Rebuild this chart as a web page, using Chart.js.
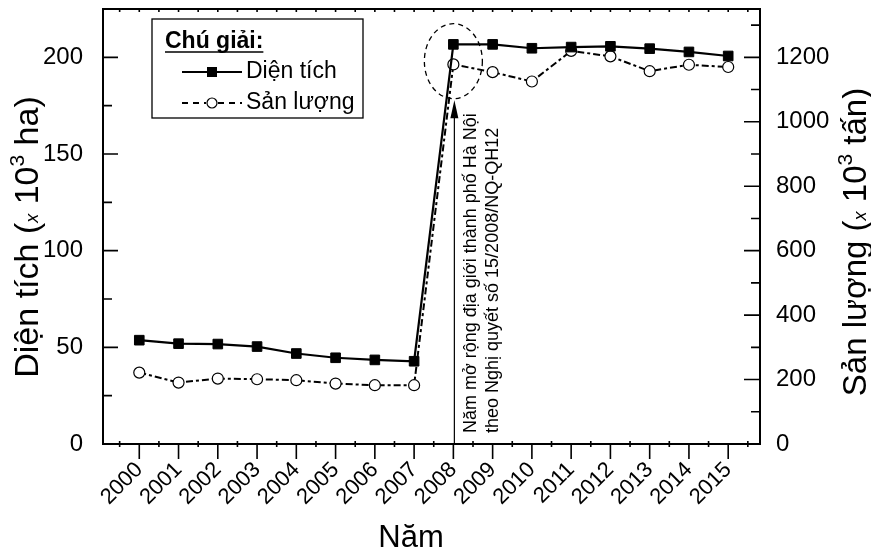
<!DOCTYPE html>
<html><head><meta charset="utf-8">
<script src="https://cdn.jsdelivr.net/npm/chart.js@4/dist/chart.umd.min.js"></script>
<style>html,body{margin:0;padding:0;background:#fff}</style>
</head><body>
<div style="width:871px;height:554px"><canvas id="c" width="871" height="554"></canvas></div>
<script>
const years = [2000,2001,2002,2003,2004,2005,2006,2007,2008,2009,2010,2011,2012,2013,2014,2015];
const dienTich = [53.7,51.9,51.7,50.4,46.8,44.6,43.5,42.8,206.7,206.7,204.7,205.3,205.7,204.5,202.8,200.7];
const sanLuong = [221.6,190.6,203,201,198,187.5,182.5,182.5,1178,1154,1125,1220,1203,1157,1177,1170];
const leftTicks = [0,50,100,150,200];
const rightTicks = [0,200,400,600,800,1000,1200];
const legendTitle = 'Chú giải:';
const seriesNames = ['Diện tích','Sản lượng'];
const xTitle = 'Năm';
const noteLines = ['Năm mở rộng địa giới thành phố Hà Nội','theo Nghị quyết số 15/2008/NQ-QH12'];

const FONT = "'Liberation Sans', Arial, sans-serif";
Chart.defaults.font.family = FONT;
Chart.defaults.color = '#000';

function drawSegments(ctx, segs) {
  let total = 0;
  segs.forEach(s => { ctx.font = s.f; s.w = ctx.measureText(s.t).width; total += s.w; });
  let x = -total / 2;
  segs.forEach(s => { ctx.font = s.f; ctx.fillText(s.t, x, s.dy || 0); x += s.w; });
}

function noPad(s) { s.paddingTop = 0; s.paddingBottom = 0; s.paddingLeft = 0; s.paddingRight = 0; }

const decor = {
  id: 'decor',
  afterDatasetsDraw(chart) {
    const ctx = chart.ctx;
    const a = chart.chartArea;
    const xs = chart.scales.x, yl = chart.scales.y, yr = chart.scales.y2;
    ctx.save();
    ctx.strokeStyle = '#000';
    ctx.fillStyle = '#000';
    ctx.lineWidth = 2;
    ctx.strokeRect(a.left, a.top, a.right - a.left, a.bottom - a.top);
    ctx.lineWidth = 1.6;
    ctx.beginPath();
    for (let v = 0; v <= 225; v += 25) {
      const py = yl.getPixelForValue(v);
      const len = (v % 50 === 0) ? 15 : 9;
      ctx.moveTo(a.left, py); ctx.lineTo(a.left + len, py);
    }
    for (let v = 0; v <= 1350; v += 100) {
      const py = yr.getPixelForValue(v);
      const len = (v % 200 === 0) ? 16 : 9;
      ctx.moveTo(a.right, py); ctx.lineTo(a.right - len, py);
    }
    years.forEach(yv => {
      const px = xs.getPixelForValue(yv);
      ctx.moveTo(px, a.bottom); ctx.lineTo(px, a.bottom + 15);
      const pm = xs.getPixelForValue(yv - 0.5);
      ctx.moveTo(pm, a.bottom - 3); ctx.lineTo(pm, a.bottom + 3);
      ctx.moveTo(px, a.top); ctx.lineTo(px, a.top + 3);
      ctx.moveTo(pm, a.top); ctx.lineTo(pm, a.top + 3);
    });
    const pl = xs.getPixelForValue(2015.5);
    ctx.moveTo(pl, a.bottom - 3); ctx.lineTo(pl, a.bottom + 3);
    ctx.moveTo(pl, a.top); ctx.lineTo(pl, a.top + 3);
    ctx.stroke();

    // annotation: dashed ellipse around 2008
    const cx = xs.getPixelForValue(2008);
    const cy = yl.getPixelForValue(198);
    ctx.lineWidth = 1.3;
    ctx.setLineDash([5, 4]);
    ctx.beginPath();
    ctx.ellipse(cx, cy, 29, 37.5, 0, 0, Math.PI * 2);
    ctx.stroke();
    ctx.setLineDash([]);
    const ax = cx + 1;
    const tip = cy + 37.5 + 1.5;
    ctx.lineWidth = 1.2;
    ctx.beginPath();
    ctx.moveTo(ax, a.bottom); ctx.lineTo(ax, tip + 10);
    ctx.stroke();
    ctx.beginPath();
    ctx.moveTo(ax, tip); ctx.lineTo(ax - 4, tip + 18); ctx.lineTo(ax + 4, tip + 18); ctx.closePath();
    ctx.fill();
    ctx.font = '18px ' + FONT;
    ctx.textAlign = 'left';
    ctx.textBaseline = 'middle';
    [[471, noteLines[0]], [493, noteLines[1]]].forEach(([tx, t]) => {
      ctx.save();
      ctx.translate(tx, 433);
      ctx.rotate(-Math.PI / 2);
      ctx.fillText(t, 0, 0);
      ctx.restore();
    });

    // legend
    ctx.lineWidth = 1.3;
    ctx.strokeRect(152, 19, 211, 99);
    ctx.font = 'bold 23px ' + FONT;
    ctx.textBaseline = 'alphabetic';
    ctx.fillText(legendTitle, 165, 48);
    const tw = ctx.measureText(legendTitle).width;
    ctx.beginPath(); ctx.moveTo(165, 52); ctx.lineTo(165 + tw, 52); ctx.stroke();
    ctx.lineWidth = 2.2;
    ctx.beginPath(); ctx.moveTo(182, 72); ctx.lineTo(242, 72); ctx.stroke();
    ctx.fillRect(207, 67, 10, 10);
    ctx.lineWidth = 2;
    ctx.setLineDash([6, 5]);
    ctx.beginPath(); ctx.moveTo(182, 103); ctx.lineTo(206, 103); ctx.moveTo(218, 103); ctx.lineTo(242, 103); ctx.stroke();
    ctx.setLineDash([]);
    ctx.lineWidth = 1.2;
    ctx.beginPath(); ctx.arc(212, 103, 5, 0, Math.PI * 2); ctx.fillStyle = '#fff'; ctx.fill(); ctx.stroke();
    ctx.fillStyle = '#000';
    ctx.font = '23px ' + FONT;
    ctx.textBaseline = 'middle';
    ctx.fillText(seriesNames[0], 246, 72);
    ctx.fillText(seriesNames[1], 246, 103);

    // axis titles
    ctx.textBaseline = 'alphabetic';
    ctx.textAlign = 'left';
    ctx.save();
    ctx.translate(38, 237);
    ctx.rotate(-Math.PI / 2);
    drawSegments(ctx, [
      {t: 'Diện tích (', f: '34px ' + FONT},
      {t: 'x', f: 'italic 18px ' + FONT},
      {t: ' 10', f: '34px ' + FONT},
      {t: '3', f: '21px ' + FONT, dy: -14},
      {t: ' ha)', f: '34px ' + FONT}
    ]);
    ctx.restore();
    ctx.save();
    ctx.translate(866, 242);
    ctx.rotate(-Math.PI / 2);
    drawSegments(ctx, [
      {t: 'Sản lượng (', f: '33px ' + FONT},
      {t: 'x', f: 'italic 18px ' + FONT},
      {t: ' 10', f: '33px ' + FONT},
      {t: '3', f: '21px ' + FONT, dy: -14},
      {t: ' tấn)', f: '33px ' + FONT}
    ]);
    ctx.restore();
    ctx.save();
    ctx.translate(411, 547);
    drawSegments(ctx, [{t: xTitle, f: '31px ' + FONT}]);
    ctx.restore();
    ctx.restore();
  }
};

new Chart(document.getElementById('c'), {
  type: 'line',
  data: {
    datasets: [
      {
        label: seriesNames[0],
        data: years.map((y, i) => ({x: y, y: dienTich[i]})),
        yAxisID: 'y',
        borderColor: '#000', borderWidth: 2.2,
        pointStyle: 'rect', pointRadius: 6.8,
        pointBackgroundColor: '#000', pointBorderColor: '#000', pointBorderWidth: 1,
        tension: 0
      },
      {
        label: seriesNames[1],
        data: years.map((y, i) => ({x: y, y: sanLuong[i]})),
        yAxisID: 'y2',
        borderColor: '#000', borderWidth: 2, borderDash: [7, 3, 3, 3],
        pointStyle: 'circle', pointRadius: 5.5,
        pointBackgroundColor: '#fff', pointBorderColor: '#000', pointBorderWidth: 1.2,
        tension: 0
      }
    ]
  },
  options: {
    responsive: false,
    animation: false,
    layout: {padding: {top: 9, left: 0, right: 0, bottom: 0}},
    plugins: {legend: {display: false}, tooltip: {enabled: false}},
    scales: {
      x: {
        type: 'linear', min: 1999.076, max: 2015.81,
        afterBuildTicks: s => { s.ticks = years.map(v => ({value: v})); },
        afterFit: s => { s.height = 110; noPad(s); },
        grid: {display: false, drawTicks: false},
        border: {display: false},
        ticks: {autoSkip: false, maxRotation: 45, minRotation: 45, padding: 13,
          font: {size: 22}, color: '#000', callback: v => String(v)}
      },
      y: {
        position: 'left', min: 0, max: 225,
        afterBuildTicks: s => { s.ticks = leftTicks.map(v => ({value: v})); },
        afterFit: s => { s.width = 103; noPad(s); },
        grid: {display: false, drawTicks: false},
        border: {display: false},
        ticks: {padding: 20, font: {size: 24}, color: '#000', callback: v => String(v)}
      },
      y2: {
        position: 'right', min: 0, max: 1350,
        afterBuildTicks: s => { s.ticks = rightTicks.map(v => ({value: v})); },
        afterFit: s => { s.width = 111; noPad(s); },
        grid: {display: false, drawTicks: false},
        border: {display: false},
        ticks: {padding: 16, font: {size: 24}, color: '#000', callback: v => String(v)}
      }
    }
  },
  plugins: [decor]
});
</script>
</body></html>
